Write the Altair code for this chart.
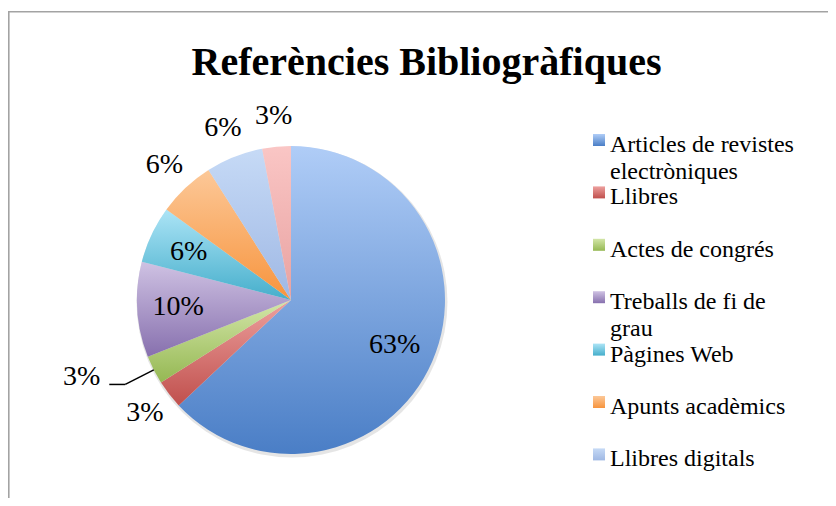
import json
import math
import altair as alt
import pandas as pd

# ---------------- data ----------------
categories = ["Articles de revistes electròniques", "Llibres", "Actes de congrés",
              "Treballs de fi de grau", "Pàgines Web", "Apunts acadèmics",
              "Llibres digitals", "Altres"]
percent = [63, 3, 3, 10, 6, 6, 6, 3]
legend_labels = ["Articles de revistes\nelectròniques", "Llibres", "Actes de congrés",
                 "Treballs de fi de\ngrau", "Pàgines Web", "Apunts acadèmics",
                 "Llibres digitals", "Altres"]
title_text = "Referències Bibliogràfiques"

# ---------------- style ----------------
color_top = ["#B0CDF7", "#EDA09E", "#D3E6A8", "#CFC2E3", "#ACE4F6", "#FCC898", "#C6DAF6", "#FAC6C5"]
color_bottom = ["#4A7EC6", "#C0504D", "#95B853", "#8770AE", "#45AECB", "#F7943D", "#9FB8E4", "#E8A2A1"]
outside_labels = ["Llibres", "Apunts acadèmics", "Llibres digitals", "Altres"]
leader_label = "Actes de congrés"

W, H = 820, 490
CX, CY, R = 283, 292, 154
R_IN, R_OUT = 113, 185
FONT = "Liberation Serif"

df = pd.DataFrame({"cat": categories, "value": percent, "legend": legend_labels,
                   "idx": list(range(len(categories)))})
one = pd.DataFrame({"t": [title_text]})


def grad(top, bottom):
    return {"gradient": "linear", "x1": 0, "y1": 0, "x2": 0, "y2": 1,
            "stops": [{"offset": 0, "color": top}, {"offset": 1, "color": bottom}]}


base = alt.Chart(df).transform_joinaggregate(total="sum(value)").transform_window(
    cum="sum(value)", frame=[None, 0], sort=[alt.SortField("idx", order="ascending")]
).transform_calculate(
    a0="2*PI*(datum.cum-datum.value)/datum.total",
    a1="2*PI*datum.cum/datum.total",
    am="2*PI*(datum.cum-datum.value/2)/datum.total",
)

layers = []

# border (top and left lines of the chart frame)
layers.append(alt.Chart(one).mark_rule(color="#A3A3A3", strokeWidth=1.6).encode(
    x=alt.value(0.8), y=alt.value(3), y2=alt.value(H)))
layers.append(alt.Chart(one).mark_rule(color="#A3A3A3", strokeWidth=1.6).encode(
    x=alt.value(0), x2=alt.value(W), y=alt.value(3.8)))

# soft shadow
layers.append(alt.Chart(one).mark_arc(theta=0, theta2=2 * math.pi, outerRadius=R + 1.5,
                                      color="black", opacity=0.10).encode(
    x=alt.value(CX + 1), y=alt.value(CY + 2)))

# slices, each with its own vertical gradient
for i in range(len(categories)):
    layers.append(base.transform_filter(alt.datum.idx == i).mark_arc(
        outerRadius=R, innerRadius=0).encode(
        theta=alt.Theta("a0:Q", scale=None), theta2="a1:Q",
        x=alt.value(CX), y=alt.value(CY),
        fill=alt.value(grad(color_top[i], color_bottom[i]))))

# percentage labels
layers.append(base.transform_filter(alt.datum.cat != leader_label).transform_calculate(
    lr=f"indexof({json.dumps(outside_labels)}, datum.cat) >= 0 ? {R_OUT} : {R_IN}",
    lx=f"{CX} + datum.lr*sin(datum.am)",
    ly=f"{CY} - datum.lr*cos(datum.am)",
    lab="format(datum.value/datum.total, '.0%')",
).mark_text(font=FONT, fontSize=28, color="black", align="center", baseline="middle").encode(
    x=alt.X("lx:Q", scale=None, axis=None), y=alt.Y("ly:Q", scale=None, axis=None), text="lab:N"))

# leader-line label
lead = base.transform_filter(alt.datum.cat == leader_label).transform_calculate(
    ex=f"{CX} + {R}*sin(datum.am)",
    ey=f"{CY} - {R}*cos(datum.am)",
    bx=f"{CX} + {R + 32}*sin(datum.am)",
    by=f"{CY} - {R + 32}*cos(datum.am)",
    hx="datum.bx - 16",
    tx="datum.bx - 25",
    ty="datum.by - 7",
    lab="format(datum.value/datum.total, '.0%')",
)
layers.append(lead.mark_rule(color="black", strokeWidth=1.5).encode(
    x=alt.X("ex:Q", scale=None, axis=None), y=alt.Y("ey:Q", scale=None, axis=None),
    x2="bx:Q", y2="by:Q"))
layers.append(lead.mark_rule(color="black", strokeWidth=1.5).encode(
    x=alt.X("bx:Q", scale=None, axis=None), y=alt.Y("by:Q", scale=None, axis=None),
    x2="hx:Q", y2="by:Q"))
layers.append(lead.mark_text(font=FONT, fontSize=28, color="black", align="right",
                             baseline="middle").encode(
    x=alt.X("tx:Q", scale=None, axis=None), y=alt.Y("ty:Q", scale=None, axis=None), text="lab:N"))

# legend (first seven entries are visible in the frame)
LX, LY0, LDY = 602, 144, 52.4
for i in range(7):
    layers.append(alt.Chart(df).transform_filter(alt.datum.idx == i).transform_calculate(
        sx0=f"{LX - 17}", sx1=f"{LX - 5}",
        sy0=f"{LY0 - 18} + {LDY}*datum.idx", sy1=f"{LY0 - 6} + {LDY}*datum.idx",
    ).mark_rect().encode(
        x=alt.X("sx0:Q", scale=None, axis=None), x2="sx1:Q",
        y=alt.Y("sy0:Q", scale=None, axis=None), y2="sy1:Q",
        fill=alt.value(grad(color_top[i], color_bottom[i]))))

layers.append(alt.Chart(df).transform_filter(alt.datum.idx < 7).transform_calculate(
    tx=f"{LX}", ty=f"{LY0} + {LDY}*datum.idx",
).mark_text(font=FONT, fontSize=24, color="black", align="left", baseline="alphabetic",
            lineBreak="\n", lineHeight=26.5).encode(
    x=alt.X("tx:Q", scale=None, axis=None), y=alt.Y("ty:Q", scale=None, axis=None),
    text="legend:N"))

# title
layers.append(alt.Chart(one).mark_text(font=FONT, fontSize=40, fontWeight="bold", color="black",
                                       align="center", baseline="alphabetic").encode(
    x=alt.value(418.5), y=alt.value(67), text="t:N"))

chart = alt.layer(*layers).properties(
    width=W, height=H, autosize=alt.AutoSizeParams(type="none"), padding=0,
    background="white",
).configure_view(stroke=None)

chart.save("out.html", embed_options={"renderer": "svg", "actions": False})
